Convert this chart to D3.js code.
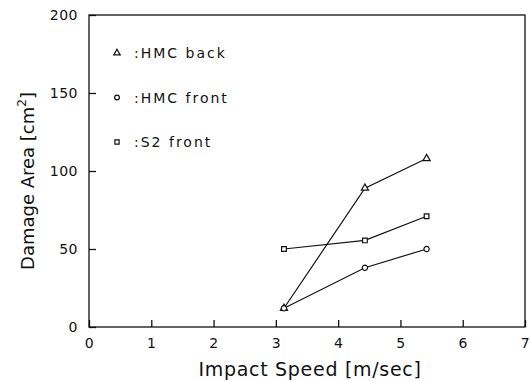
<!DOCTYPE html>
<html>
<head>
<meta charset="utf-8">
<script src="https://d3js.org/d3.v7.min.js"></script>
<style>
    body { margin: 0; background: #fff; }
    text { font-family: "DejaVu Sans", sans-serif; fill: #111; }
    .axis path, .axis line { stroke: #111; stroke-width: 1.3px; }
    .axis text { font-size: 14px; letter-spacing: 0.5px; }
    .series { fill: none; stroke: #111; stroke-width: 1.2px; }
    .marker { fill: #fff; stroke: #111; stroke-width: 1.2px; }
</style>
</head>
<body>
<svg id="chart" width="530" height="381"></svg>
<script>
    // данные
    const speeds = [3.13, 4.43, 5.42];
    const hmcBack = [12, 89, 108];
    const hmcFront = [12, 38, 50];
    const s2Front = [50, 55.5, 71];
    const xTicks = [0, 1, 2, 3, 4, 5, 6, 7];
    const yTicks = [0, 50, 100, 150, 200];
    const seriesNames = [":HMC back", ":HMC front", ":S2 front"];

    const series = [
        { name: seriesNames[0], values: hmcBack, symbol: d3.symbolTriangle },
        { name: seriesNames[1], values: hmcFront, symbol: d3.symbolCircle },
        { name: seriesNames[2], values: s2Front, symbol: d3.symbolSquare }
    ];

    const svg = d3.select("#chart");
    const margin = { top: 15, right: 5, bottom: 54, left: 89 };
    const width = 530 - margin.left - margin.right;
    const height = 381 - margin.top - margin.bottom;

    const x = d3.scaleLinear().domain([0, 7]).range([0, width]);
    const y = d3.scaleLinear().domain([0, 200]).range([height, 0]);

    const g = svg.append("g")
        .attr("transform", `translate(${margin.left},${margin.top})`);

    // рамка
    g.append("rect")
        .attr("width", width)
        .attr("height", height)
        .attr("fill", "none")
        .attr("stroke", "#111")
        .attr("stroke-width", 1.3);

    // оси с внутренними засечками
    g.append("g")
        .attr("class", "axis")
        .attr("transform", `translate(0,${height})`)
        .call(d3.axisBottom(x).tickValues(xTicks).tickFormat(d3.format("d"))
            .tickSize(-7).tickPadding(11).tickSizeOuter(0))
        .call(a => a.select(".domain").remove());

    g.append("g")
        .attr("class", "axis")
        .call(d3.axisLeft(y).tickValues(yTicks).tickFormat(d3.format("d"))
            .tickSize(-7).tickPadding(11).tickSizeOuter(0))
        .call(a => a.select(".domain").remove());

    // линии серий
    const line = d3.line()
        .x((d, i) => x(speeds[i]))
        .y(d => y(d));

    series.forEach(s => {
        g.append("path")
            .attr("class", "series")
            .attr("d", line(s.values));
        g.selectAll(null)
            .data(s.values)
            .enter()
            .append("path")
            .attr("class", "marker")
            .attr("transform", (d, i) => `translate(${x(speeds[i])},${y(d)})`)
            .attr("d", d3.symbol().type(s.symbol).size(22));
    });

    // легенда
    const legend = g.append("g").attr("transform", "translate(28,38)");
    series.forEach((s, i) => {
        const row = legend.append("g").attr("transform", `translate(0,${i * 44.5})`);
        row.append("path")
            .attr("class", "marker")
            .attr("d", d3.symbol().type(s.symbol).size(18));
        row.append("text")
            .attr("x", 17)
            .attr("y", 5)
            .style("font-size", "14px")
            .style("letter-spacing", "2px")
            .text(s.name);
    });

    // подписи осей
    svg.append("text")
        .attr("x", 310)
        .attr("y", 376)
        .attr("text-anchor", "middle")
        .style("font-size", "19px")
        .style("letter-spacing", "0.7px")
        .text("Impact Speed [m/sec]");

    const yl = svg.append("text")
        .attr("transform", "translate(34,181) rotate(-90)")
        .attr("text-anchor", "middle")
        .style("font-size", "18px");
    yl.append("tspan").text("Damage Area [cm");
    yl.append("tspan").attr("dy", -8).style("font-size", "12px").text("2");
    yl.append("tspan").attr("dy", 8).text("]");
</script>
</body>
</html>
